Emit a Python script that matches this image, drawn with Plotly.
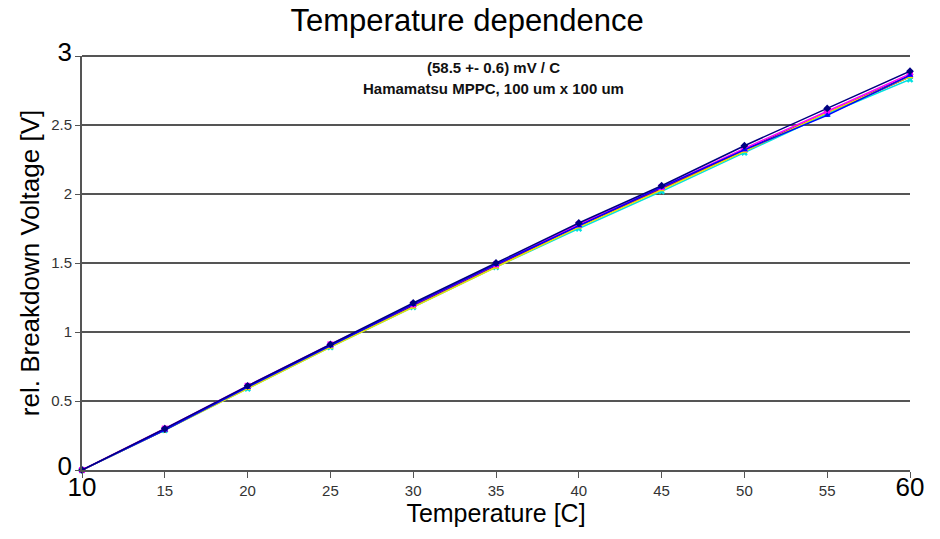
import plotly.graph_objects as go

temps = [10, 15, 20, 25, 30, 35, 40, 45, 50, 55, 60]
s1 = [0, 0.30, 0.61, 0.91, 1.21, 1.50, 1.79, 2.06, 2.35, 2.62, 2.89]
s2 = [0, 0.30, 0.61, 0.91, 1.20, 1.49, 1.78, 2.05, 2.33, 2.60, 2.87]
s3 = [0, 0.29, 0.59, 0.89, 1.18, 1.47, 1.76, 2.03, 2.31, 2.59, 2.85]
s4 = [0, 0.29, 0.59, 0.89, 1.18, 1.47, 1.75, 2.02, 2.30, 2.58, 2.83]
s5 = [0, 0.30, 0.60, 0.90, 1.19, 1.48, 1.77, 2.04, 2.32, 2.59, 2.86]
s6 = [0, 0.29, 0.60, 0.90, 1.19, 1.48, 1.77, 2.04, 2.31, 2.58, 2.85]
s7 = [0, 0.29, 0.60, 0.90, 1.20, 1.49, 1.77, 2.05, 2.32, 2.57, 2.86]

series = [
    (s6, "#800000", "circle"),
    (s5, "#800080", "star"),
    (s4, "#00E0E0", "x"),
    (s3, "#F0E000", "triangle-up"),
    (s2, "#FF00FF", "square"),
    (s7, "#0000FF", "triangle-up"),
    (s1, "#000080", "diamond"),
]

BIG = '<span style="font-size:26px;fill:#000">{}</span>'
xtick_vals = [10, 15, 20, 25, 30, 35, 40, 45, 50, 55, 60]
xtick_text = [BIG.format("10"), "15", "20", "25", "30", "35", "40", "45", "50", "55", BIG.format("60")]
ytick_vals = [0, 0.5, 1, 1.5, 2, 2.5, 3]
ytick_text = [BIG.format("0"), "0.5", "1", "1.5", "2", "2.5", BIG.format("3")]

fig = go.Figure()
for ys, col, sym in series:
    fig.add_trace(go.Scatter(
        x=temps, y=ys, mode="lines+markers",
        line=dict(color=col, width=1.5),
        marker=dict(color=col, symbol=sym, size=6),
        showlegend=False, cliponaxis=False,
    ))

fig.update_layout(
    width=940, height=539,
    margin=dict(l=82, r=30, t=56, b=69),
    paper_bgcolor="white", plot_bgcolor="white",
    font=dict(family="Liberation Sans, Arial, sans-serif", color="#000"),
    title=dict(text="Temperature dependence", x=0.497, xanchor="center", y=0.962, yanchor="middle",
               font=dict(size=31, color="#000")),
    xaxis=dict(range=[10, 60], tickmode="array", tickvals=xtick_vals, ticktext=xtick_text,
               tickfont=dict(size=15, color="#333"), ticks="outside", ticklen=6, tickcolor="#555",
               showline=True, linecolor="#555", linewidth=2, showgrid=False, zeroline=False,
               title=dict(text="Temperature [C]", font=dict(size=25), standoff=2)),
    yaxis=dict(range=[0, 3], tickmode="array", tickvals=ytick_vals, ticktext=ytick_text,
               tickfont=dict(size=15, color="#333"), ticks="outside", ticklen=5, tickcolor="#555",
               showline=True, linecolor="#555", linewidth=2, showgrid=True, gridcolor="#555", gridwidth=2,
               zeroline=False,
               title=dict(text="rel. Breakdown Voltage [V]", font=dict(size=26), standoff=4)),
    shapes=[dict(type="line", xref="paper", yref="paper", x0=0, x1=1, y0=1, y1=1,
                 line=dict(color="#555", width=2), layer="below")],
    annotations=[
        dict(text="<b>(58.5 +- 0.6) mV / C</b>", x=0.497, y=0.972, xref="paper", yref="paper",
             showarrow=False, font=dict(size=15, color="#111"), xanchor="center", yanchor="middle"),
        dict(text="<b>Hamamatsu MPPC, 100 um x 100 um</b>", x=0.497, y=0.922, xref="paper", yref="paper",
             showarrow=False, font=dict(size=15, color="#111"), xanchor="center", yanchor="middle"),
    ],
)

fig.write_html("out.html")
